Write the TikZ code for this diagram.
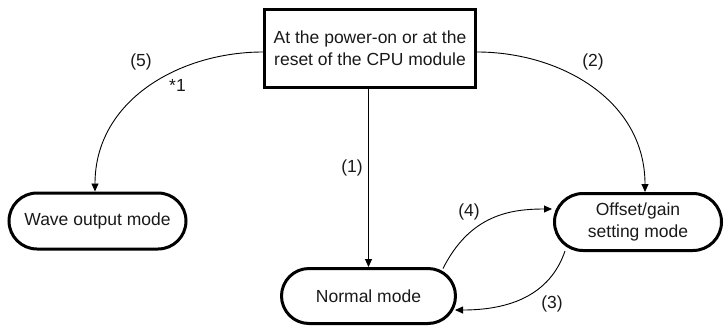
\documentclass[tikz,border=0pt]{standalone}
\usepackage{fontspec}
\setmainfont{Liberation Sans}
\usetikzlibrary{shapes.misc,arrows.meta}
\begin{document}
\begin{tikzpicture}[x=1pt,y=-1pt,
  txt/.style={font=\fontsize{17.5}{22}\selectfont, text=black!90},
  modebox/.style={txt, rounded rectangle, draw, line width=3pt, inner sep=0pt, align=center},
  startbox/.style={txt, rectangle, draw, line width=3pt, inner sep=0pt, align=center},
  conn/.style={line width=0.9pt, -{Triangle[length=8pt,width=7pt]}},
  lbl/.style={txt, inner sep=0pt}]
\useasboundingbox (0,0) rectangle (725,327);
\node[startbox, minimum width=211pt, minimum height=78pt] (top) at (370,48.5) {At the power-on or at the\\reset of the CPU module};
\node[modebox, minimum width=177pt, minimum height=56pt] (wave) at (97.5,221) {Wave output mode};
\node[modebox, minimum width=167pt, minimum height=57pt] (off) at (638,222) {Offset/gain\\setting mode};
\node[modebox, minimum width=174pt, minimum height=55pt] (normal) at (368.5,296) {Normal mode};
% connectors
\draw[conn] ([yshift=-3.5pt]top.west) .. controls (180,52) and (95,100) .. ([xshift=-2.5pt]wave.north);
\draw[conn] ([yshift=-3.5pt]top.east) .. controls (560,52) and (645,100) .. ([xshift=7pt]off.north);
\draw[conn] ([xshift=-1.5pt]top.south) -- ([xshift=0pt]normal.north);
\coordinate (n4) at (443,268.5);
\coordinate (o4) at (552,209);
\draw[conn] (n4) .. controls (470,215) and (510,209) .. (o4);
\coordinate (o3) at (565,251);
\coordinate (n3) at (455,310);
\draw[conn] (o3) .. controls (550,295) and (510,310) .. (n3);
% labels
\node[lbl] (l5) at (141,62) {(5)};
\node[lbl] (l5s) at (177.5,85) {*1};
\node[lbl] (l2) at (593,62) {(2)};
\node[lbl] (l1) at (352,168) {(1)};
\node[lbl] (l4) at (469,212) {(4)};
\node[lbl] (l3) at (552,304) {(3)};
\end{tikzpicture}
\end{document}
